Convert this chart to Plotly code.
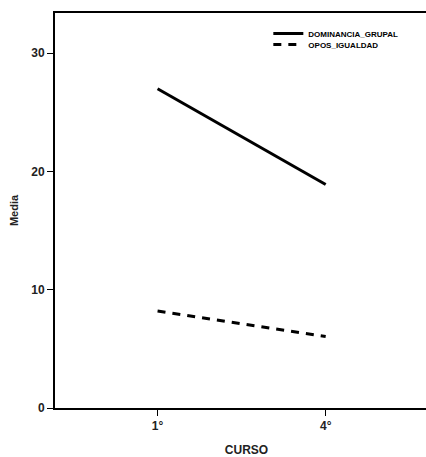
import plotly.graph_objects as go

cursos = ["1°", "4°"]
dominancia_grupal = [27.0, 18.9]
opos_igualdad = [8.2, 6.05]
series_names = ["DOMINANCIA_GRUPAL", "OPOS_IGUALDAD"]
y_ticks = [0, 10, 20, 30]

font_bold = "Liberation Sans"
leg_font = dict(family=font_bold, size=8, color="black", weight="bold")

fig = go.Figure()
fig.add_trace(go.Scatter(x=cursos, y=dominancia_grupal, mode="lines", name=series_names[0],
                         line=dict(color="black", width=3), legend="legend"))
fig.add_trace(go.Scatter(x=cursos, y=opos_igualdad, mode="lines", name=series_names[1],
                         line=dict(color="black", width=3, dash="8px,7px"), legend="legend2"))

fig.update_layout(
    width=440, height=457,
    margin=dict(l=55, r=0, t=13, b=49),
    plot_bgcolor="white", paper_bgcolor="white",
    showlegend=True,
    legend=dict(x=0.557, y=0.985, xanchor="left", yanchor="top",
                bgcolor="rgba(0,0,0,0)", itemwidth=30, font=leg_font),
    legend2=dict(x=0.557, y=0.957, xanchor="left", yanchor="top",
                 bgcolor="rgba(0,0,0,0)", itemwidth=30, font=leg_font),
    xaxis=dict(type="category", range=[-0.61, 1.668], showline=True, linecolor="black", linewidth=2,
               mirror=True, ticks="outside", ticklen=6, tickwidth=1, tickcolor="black",
               showgrid=False, zeroline=False,
               tickfont=dict(family=font_bold, size=12, color="#222", weight="bold"),
               title=dict(text="CURSO", font=dict(family=font_bold, size=12, color="#222", weight="bold"),
                          standoff=14)),
    yaxis=dict(range=[0, 33.4], tickvals=y_ticks, showline=True, linecolor="black", linewidth=2,
               mirror=True, ticks="outside", ticklen=6, tickwidth=1, tickcolor="black",
               showgrid=False, zeroline=False,
               tickfont=dict(family=font_bold, size=12, color="#222", weight="bold"),
               title=dict(text="Media", font=dict(family=font_bold, size=11, color="#222", weight="bold"),
                          standoff=10)),
)
fig.write_html("out.html", config={"displayModeBar": False},
               post_script="document.body.style.margin='0';document.body.style.overflow='hidden';")
